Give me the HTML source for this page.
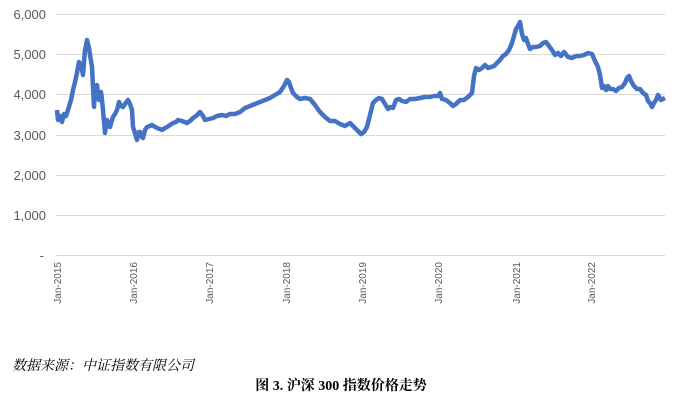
<!DOCTYPE html>
<html><head><meta charset="utf-8"><style>
body{margin:0;background:#fff;width:682px;height:401px;overflow:hidden}
</style></head><body>
<svg width="682" height="401" xmlns="http://www.w3.org/2000/svg" font-family="Liberation Sans, sans-serif">
<g stroke="#d9d9d9" stroke-width="1">
<line x1="56" y1="14.5" x2="665" y2="14.5"/><line x1="56" y1="54.5" x2="665" y2="54.5"/>
<line x1="56" y1="94.5" x2="665" y2="94.5"/><line x1="56" y1="135.5" x2="665" y2="135.5"/>
<line x1="56" y1="175.5" x2="665" y2="175.5"/><line x1="56" y1="215.5" x2="665" y2="215.5"/>
<line x1="56" y1="255.5" x2="665" y2="255.5"/>
</g>
<g fill="#595959" font-size="13" text-anchor="end">
<text x="46" y="19">6,000</text><text x="46" y="59">5,000</text><text x="46" y="99">4,000</text>
<text x="46" y="140">3,000</text><text x="46" y="180">2,000</text><text x="46" y="220">1,000</text>
<text x="44" y="260">-</text>
</g>
<g fill="#595959" font-size="10" text-anchor="end">
<text transform="translate(61,262) rotate(-90)">Jan-2015</text>
<text transform="translate(137,262) rotate(-90)">Jan-2016</text>
<text transform="translate(213,262) rotate(-90)">Jan-2017</text>
<text transform="translate(290,262) rotate(-90)">Jan-2018</text>
<text transform="translate(366,262) rotate(-90)">Jan-2019</text>
<text transform="translate(442,262) rotate(-90)">Jan-2020</text>
<text transform="translate(520,262) rotate(-90)">Jan-2021</text>
<text transform="translate(595,262) rotate(-90)">Jan-2022</text>
</g>
<polyline fill="none" stroke="#4472C4" stroke-width="4.5" stroke-linejoin="round" points="
57,110 58,120 60,116 62,122 64,114 66,116 68,110 71,100 73,90 75,82 77,73 79,62 81,67 82,70 83,75 84,62 85,50 86,46 87,40 88,44 89,48 90,55 92,67 93,87 94,107 95,92 97,85 98,95 99,100 101,92 102,100 103,110 104,122 105,133 106,125 107,120 108,126 110,127 112,120 113,117 115,114 117,110 119,102 121,106 123,107 125,104 128,100 130,104 132,110 133,127 135,133 137,140 139,132 140,132 142,137 143,138 145,130 147,127 150,126 152,125 157,128 160,129 162,130 165,128 167,127 170,125 173,123 176,122 178,120 182,121 187,123 190,121 193,118 196,116 200,112 203,116 205,120 209,119 213,118 217,116 222,115 226,116 230,114 235,114 240,112 245,108 250,106 255,104 260,102 265,100 270,98 275,95 280,92 284,86 287,80 289,82 291,88 293,93 297,97 300,99 305,98 310,99 315,105 320,112 325,117 330,121 335,121 340,124 345,126 350,123 355,128 358,131 361,134 364,132 367,127 370,115 373,103 376,100 379,98 382,99 385,104 388,109 390,107 393,108 396,100 399,99 402,101 406,102 410,99 415,99 420,98 425,97 430,97 434,96 438,96 440,93 442,99 446,100 450,103 453,106 456,104 460,100 464,100 468,97 472,93 474,76 476,68 479,70 482,68 485,65 488,68 491,67 494,66 497,63 500,60 503,56 506,54 509,50 512,43 514,36 516,29 518,26 520,22 522,34 524,40 526,38 528,44 530,49 533,47 536,47 540,46 543,43 546,42 549,46 552,50 555,55 558,53 561,56 564,52 568,57 572,58 576,56 580,56 584,55 588,53 592,54 595,61 598,67 600,75 602,88 604,86 606,90 608,86 610,89 613,89 616,91 619,88 622,87 625,83 627,78 629,76 631,81 634,86 637,89 640,89 643,93 646,95 648,101 650,103 652,107 654,103 656,100 658,95 661,100 665,98"/>
<text x="12" y="370" font-family="Liberation Serif, Noto Serif CJK SC, serif" font-style="italic" font-size="14" fill="#000">数据来源：中证指数有限公司</text>
<text x="341" y="390" text-anchor="middle" font-family="Liberation Serif, Noto Serif CJK SC, serif" font-weight="bold" font-size="14" fill="#000">图 3.  沪深 300 指数价格走势</text>
</svg>
</body></html>
